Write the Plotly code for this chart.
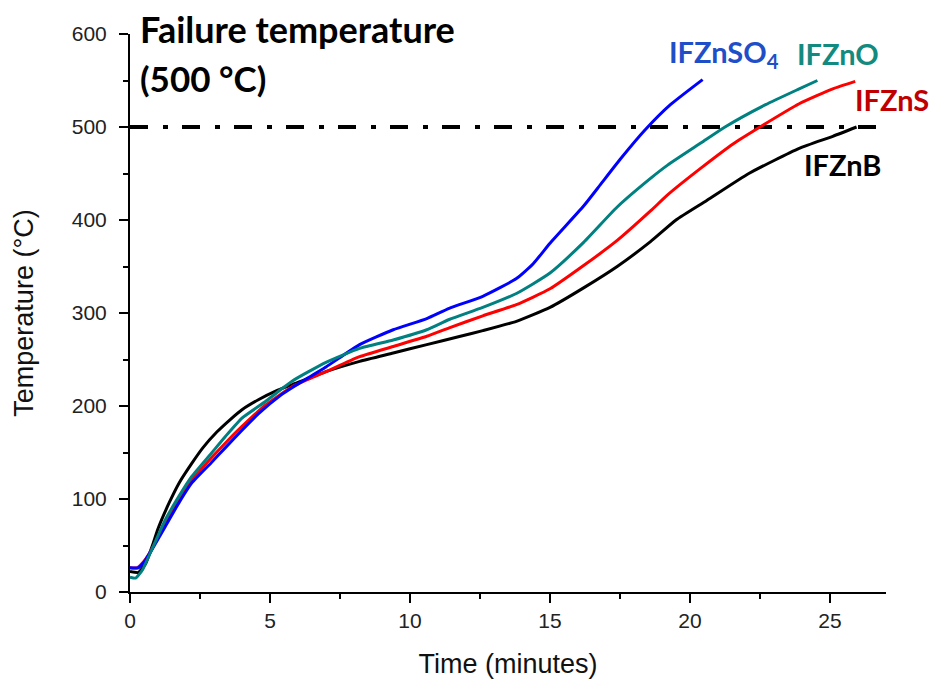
import plotly.graph_objects as go

# ---- data ----
t_znb = [0, 0.3, 0.55, 0.8, 1.0, 1.4, 1.75, 2.2, 2.6, 3.1, 3.6, 4.0, 4.6, 5.2, 5.8, 7.0, 8.2, 9.4, 10.6, 11.8, 12.6, 13.8, 15.0, 16.2, 17.4, 18.6, 19.5, 20.6, 22.1, 23.9, 25.1, 25.95]
y_znb = [22, 21, 30, 50, 68, 96, 117, 138, 155, 172, 186, 196, 207, 216, 223, 237, 248, 257, 266, 275, 281, 291, 306, 327, 350, 377, 400, 421, 450, 477, 490, 500]

t_zno = [0, 0.2, 0.45, 0.77, 1.25, 1.73, 2.2, 2.9, 3.4, 4.0, 4.8, 5.4, 5.8, 7.0, 8.2, 9.4, 10.6, 11.4, 12.6, 13.8, 15.0, 16.2, 17.4, 18.6, 19.2, 20.4, 21.25, 22.7, 23.9, 24.55]
y_zno = [16, 15, 24, 45, 77, 102, 124, 149, 167, 187, 204, 218, 227, 247, 262, 271, 282, 293, 306, 321, 343, 376, 414, 445, 459, 483, 500, 524, 541, 550]

t_zns = [0, 0.25, 0.5, 0.8, 1.25, 1.75, 2.2, 2.9, 3.4, 4.0, 4.8, 5.4, 5.8, 7.0, 8.2, 9.4, 10.6, 11.4, 12.6, 13.8, 15.0, 16.2, 17.4, 18.6, 19.2, 20.4, 21.55, 22.5, 23.9, 25.1, 25.9]
y_zns = [26, 26, 33, 47, 74, 99, 120, 144, 160, 178, 200, 213, 221, 237, 253, 264, 275, 284, 297, 309, 326, 351, 378, 410, 427, 456, 482, 500, 525, 541, 549]

t_znso4 = [0, 0.3, 0.5, 0.77, 1.25, 1.73, 2.2, 2.9, 3.4, 4.0, 4.6, 5.4, 5.8, 7.0, 8.2, 9.4, 10.6, 11.4, 12.6, 13.8, 14.4, 15.0, 16.2, 16.8, 17.5, 18.4, 19.3, 20.45]
y_znso4 = [26, 26, 32, 45, 70, 95, 117, 139, 155, 174, 192, 212, 220, 242, 266, 282, 294, 305, 318, 337, 353, 375, 415, 438, 465, 497, 524, 551]

fail_x = [0, 27]
fail_y = [500, 500]

x_ticks = [0, 5, 10, 15, 20, 25]
y_ticks = [0, 100, 200, 300, 400, 500, 600]

fig = go.Figure()
fig.add_trace(go.Scatter(x=fail_x, y=fail_y, mode="lines",
                         line=dict(color="black", width=4, dash="18px,15px,5px,14px"),
                         showlegend=False, hoverinfo="skip"))
for t, y, c in [(t_znb, y_znb, "#000000"), (t_zns, y_zns, "#ff0000"),
                (t_znso4, y_znso4, "#0000ff"), (t_zno, y_zno, "#008080")]:
    fig.add_trace(go.Scatter(x=t, y=y, mode="lines",
                             line=dict(color=c, width=3, shape="spline", smoothing=0.5),
                             showlegend=False))

L, T, W, H = 130, 34, 756, 558
def px(xp):
    return (xp - L) / W
def py(yp):
    return (T + H - yp) / H

lab_font = "Lato, 'Open Sans', sans-serif"
anns = [
    dict(text="<b>Failure temperature</b>", x=px(138), y=py(29), size=36, color="black"),
    dict(text="<b>(500 °C)</b>", x=px(138), y=py(78), size=35, color="black"),
    dict(text="<b>IFZnSO<sub>4</sub></b>", x=px(667), y=py(53), size=29, color="#1f4fc8"),
    dict(text="<b>IFZnO</b>", x=px(795), y=py(53), size=29, color="#128a80"),
    dict(text="<b>IFZnS</b>", x=px(853), y=py(99), size=29, color="#c00000"),
    dict(text="<b>IFZnB</b>", x=px(802), y=py(164), size=29, color="black"),
]
annotations = [dict(text=a["text"], x=a["x"], y=a["y"], xref="paper", yref="paper",
                    xanchor="left", yanchor="middle", showarrow=False, align="left",
                    font=dict(family=lab_font, size=a["size"], color=a["color"])) for a in anns]

axis_common = dict(showline=True, linecolor="black", linewidth=2, ticks="outside", ticklen=9,
                   tickwidth=2, tickcolor="black", showgrid=False, zeroline=False, automargin=False,
                   tickfont=dict(family="Liberation Sans, Arial, sans-serif", size=21, color="#222"),
                   title_font=dict(family="Liberation Sans, Arial, sans-serif", size=27, color="#111"))

fig.update_layout(
    width=932, height=679,
    margin=dict(l=L, r=932 - L - W, t=T, b=679 - T - H),
    plot_bgcolor="white", paper_bgcolor="white",
    annotations=annotations,
    xaxis=dict(range=[0, 27], tickvals=x_ticks, ticklabelstandoff=0,
               title=dict(text="Time (minutes)", standoff=23),
               minor=dict(dtick=2.5, ticks="outside", ticklen=5, tickwidth=2, tickcolor="black"),
               **axis_common),
    yaxis=dict(range=[0, 600], tickvals=y_ticks, ticklabelstandoff=8,
               title=dict(text="Temperature (°C)", standoff=30),
               minor=dict(dtick=50, ticks="outside", ticklen=5, tickwidth=2, tickcolor="black"),
               **axis_common),
)

fig.write_html("out.html", config={"displayModeBar": False},
               post_script="document.body.style.margin='0px';")
